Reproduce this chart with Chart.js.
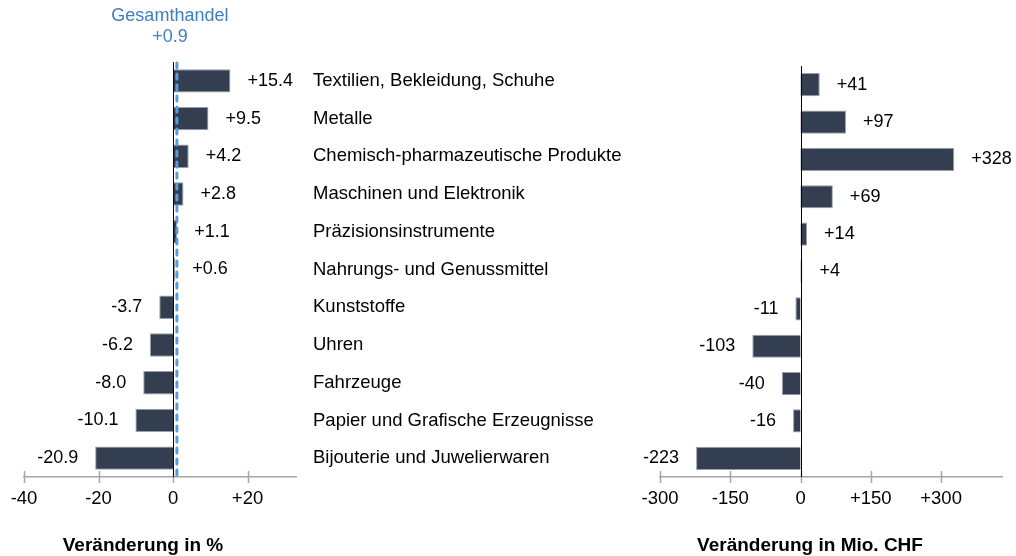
<!DOCTYPE html>
<html>
<head>
<meta charset="utf-8">
<script src="https://cdn.jsdelivr.net/npm/chart.js@4.4.1/dist/chart.umd.min.js"></script>
<style>
  html, body { margin: 0; padding: 0; background: #fff; }
  #wrap { position: relative; width: 1016px; height: 556px; overflow: hidden; }
  .panel { position: absolute; top: 0; height: 556px; }
  .axis-title {
    position: absolute; top: 534px; width: 300px; margin-left: -150px;
    text-align: center; line-height: 22px;
    font: bold 19px Arial, "Liberation Sans", Helvetica, sans-serif; color: #000;
  }
</style>
</head>
<body>
<div id="wrap">
  <div class="panel" style="left:0;width:640px;"><canvas id="chartPct"></canvas></div>
  <div class="panel" style="left:640px;width:376px;"><canvas id="chartChf"></canvas></div>
  <div class="axis-title" style="left:143px;">Veränderung in %</div>
  <div class="axis-title" style="left:810px;">Veränderung in Mio. CHF</div>
</div>
<script>
// Categories (top to bottom)
const categories = [
    'Textilien, Bekleidung, Schuhe',
    'Metalle',
    'Chemisch-pharmazeutische Produkte',
    'Maschinen und Elektronik',
    'Präzisionsinstrumente',
    'Nahrungs- und Genussmittel',
    'Kunststoffe',
    'Uhren',
    'Fahrzeuge',
    'Papier und Grafische Erzeugnisse',
    'Bijouterie und Juwelierwaren'
];

// Change in % and change in Mio. CHF
const changePct = [15.4, 9.5, 4.2, 2.8, 1.1, 0.6, -3.7, -6.2, -8.0, -10.1, -20.9];
const changeChf = [41, 97, 328, 69, 14, 4, -11, -103, -40, -16, -223];

// Overall trade reference line
const totalLabel = 'Gesamthandel';
const totalChange = 0.9;

// Axis ticks
const pctTicks = [-40, -20, 0, 20];
const chfTicks = [-300, -150, 0, 150, 300];

const FONT = 'Arial, "Liberation Sans", Helvetica, sans-serif';
const BAR_COLOR = '#333f50';
const AXIS_GREY = '#a6a6a6';

const signed = (v, dec) => (v > 0 ? '+' : '') + v.toFixed(dec);

// draws value labels, zero line, crossing tick marks and the Gesamthandel line
const marksPlugin = {
    id: 'marks',
    afterDatasetsDraw(chart, args, opts) {
        const ctx = chart.ctx;
        const area = chart.chartArea;
        const xs = chart.scales.x;
        ctx.save();

        // tick marks crossing the axis
        ctx.strokeStyle = AXIS_GREY;
        ctx.lineWidth = 1.5;
        xs.ticks.forEach(t => {
            const px = Math.round(xs.getPixelForValue(t.value)) + 0.5;
            ctx.beginPath();
            ctx.moveTo(px, area.bottom - 6);
            ctx.lineTo(px, area.bottom + 6);
            ctx.stroke();
        });

        // zero line
        const x0 = Math.round(xs.getPixelForValue(0)) + 0.5;
        ctx.strokeStyle = '#000';
        ctx.lineWidth = 1;
        ctx.beginPath();
        ctx.moveTo(x0, area.top);
        ctx.lineTo(x0, area.bottom);
        ctx.stroke();

        // value labels
        ctx.fillStyle = '#000';
        ctx.font = '18px ' + FONT;
        ctx.textBaseline = 'middle';
        const meta = chart.getDatasetMeta(0);
        const values = chart.data.datasets[0].data;
        meta.data.forEach((bar, i) => {
            const v = values[i];
            if (v >= 0) {
                ctx.textAlign = 'left';
                ctx.fillText(signed(v, opts.decimals), bar.x + 17, bar.y);
            } else {
                ctx.textAlign = 'right';
                ctx.fillText(signed(v, opts.decimals), bar.x - 17, bar.y);
            }
        });

        // overall trade line
        if (opts.total !== undefined) {
            const xt = xs.getPixelForValue(opts.total) + 0.5;
            ctx.strokeStyle = '#5b9bd5';
            ctx.lineWidth = 3;
            ctx.lineCap = 'round';
            ctx.setLineDash([5, 6]);
            ctx.beginPath();
            ctx.moveTo(xt, area.top + 1);
            ctx.lineTo(xt, area.bottom);
            ctx.stroke();
            ctx.setLineDash([]);
            ctx.fillStyle = '#3f7fc1';
            ctx.textAlign = 'center';
            ctx.font = '18px ' + FONT;
            ctx.fillText(totalLabel, xt - 7, 16);
            ctx.fillText(signed(opts.total, 1), xt - 7, 37);
        }
        ctx.restore();
    }
};

function xAxis(min, max, tickValues) {
    return {
        type: 'linear',
        min: min,
        max: max,
        afterBuildTicks: s => { s.ticks = tickValues.map(v => ({ value: v })); },
        afterFit: s => { s.height = 79; s.paddingLeft = 0; s.paddingRight = 0; },
        grid: { display: false, drawTicks: false },
        border: { display: true, color: AXIS_GREY, width: 1.5 },
        ticks: {
            padding: 11,
            color: '#000',
            font: { family: FONT, size: 18.5 },
            maxRotation: 0,
            callback: v => (v > 0 ? '+' : '') + v
        }
    };
}

function barData(values) {
    return {
        labels: categories,
        datasets: [{
            data: values,
            backgroundColor: BAR_COLOR,
            borderColor: '#98a1ad',
            borderWidth: 1,
            categoryPercentage: 1,
            barPercentage: 0.62
        }]
    };
}

new Chart(document.getElementById('chartPct'), {
    type: 'bar',
    data: barData(changePct),
    plugins: [marksPlugin],
    options: {
        indexAxis: 'y',
        responsive: true,
        maintainAspectRatio: false,
        animation: false,
        layout: { padding: { top: 62, left: 24, right: 0, bottom: 0 } },
        plugins: {
            legend: { display: false },
            tooltip: { enabled: false },
            marks: { decimals: 1, total: totalChange }
        },
        scales: {
            x: xAxis(-40, 33, pctTicks),
            y: {
                position: 'right',
                afterFit: s => { s.width = 344; },
                grid: { display: false, drawTicks: false },
                border: { display: false },
                ticks: {
                    padding: 17,
                    color: '#000',
                    font: { family: FONT, size: 18.5 }
                }
            }
        }
    }
});

new Chart(document.getElementById('chartChf'), {
    type: 'bar',
    data: barData(changeChf),
    plugins: [marksPlugin],
    options: {
        indexAxis: 'y',
        responsive: true,
        maintainAspectRatio: false,
        animation: false,
        layout: { padding: { top: 66, left: 20, right: 14, bottom: 0 } },
        plugins: {
            legend: { display: false },
            tooltip: { enabled: false },
            marks: { decimals: 0 }
        },
        scales: {
            x: xAxis(-300, 430, chfTicks),
            y: { display: false }
        }
    }
});
</script>
</body>
</html>
